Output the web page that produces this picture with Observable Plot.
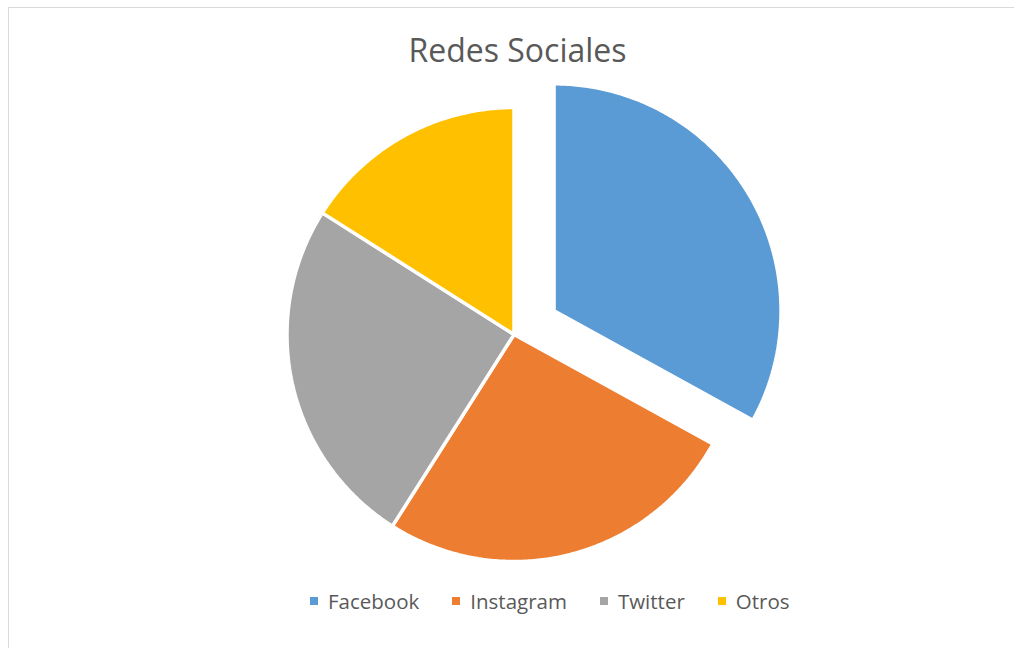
<!DOCTYPE html>
<html>
<head>
<meta charset="utf-8">
<script src="https://cdn.jsdelivr.net/npm/d3@7"></script>
<script src="https://cdn.jsdelivr.net/npm/@observablehq/plot@0.6"></script>
<style>
  html, body { margin: 0; padding: 0; background: #fff; overflow: hidden; width: 1014px; height: 648px; }
  body { font-family: "Open Sans", "Liberation Sans", sans-serif; color: #595959; position: relative; }
  #frame { position: absolute; left: 8px; top: 7px; width: 1200px; height: 800px; border: 1px solid #d9d9d9; box-sizing: border-box; }
  #title { position: absolute; left: 0; width: 1035px; top: 28px; text-align: center; font-size: 32px; line-height: 44px; color: #595959; }
  #chart { position: absolute; left: 0; top: 80px; }
  #legend { position: absolute; left: 310px; top: 587px; display: flex; align-items: center; font-size: 20.5px; line-height: 28px; color: #595959; }
  .item { display: flex; align-items: center; margin-right: 33px; }
  .sw { width: 8px; height: 8px; margin-right: 10px; }
</style>
</head>
<body>
<div id="frame"></div>
<div id="title">Redes Sociales</div>
<div id="chart"></div>
<div id="legend"></div>
<script>
const categories = ["Facebook", "Instagram", "Twitter", "Otros"];
const values = [33, 26, 25, 16];
const colors = ["#5B9BD5", "#ED7D31", "#A5A5A5", "#FFC000"];
const exploded = ["Facebook"];

const explodeFrac = 0.205;
const arcs = d3.pie().sort(null)(values);
const points = [];
arcs.forEach((a, i) => {
  const name = categories[i];
  const mid = (a.startAngle + a.endAngle) / 2;
  const e = exploded.includes(name) ? explodeFrac : 0;
  const ox = e * Math.sin(mid), oy = e * Math.cos(mid);
  points.push({name, x: ox, y: oy});
  const n = Math.max(2, Math.ceil((a.endAngle - a.startAngle) / 0.01));
  for (let k = 0; k <= n; k++) {
    const t = a.startAngle + (a.endAngle - a.startAngle) * k / n;
    points.push({name, x: ox + Math.sin(t), y: oy + Math.cos(t)});
  }
  points.push({name, x: ox, y: oy});
});

const cx = 513.5, cy = 254, r = 227;
const plot = Plot.plot({
  width: 1014,
  height: 490,
  margin: 0,
  x: {domain: [-1, 1], range: [cx - r, cx + r], axis: null},
  y: {domain: [-1, 1], range: [cy + r, cy - r], axis: null},
  color: {domain: categories, range: colors},
  marks: [
    Plot.line(points, {x: "x", y: "y", z: "name", fill: "name", stroke: "white", strokeWidth: 3.5, strokeLinejoin: "miter", curve: "linear"})
  ]
});
document.getElementById("chart").appendChild(plot);

const legend = document.getElementById("legend");
categories.forEach((c, i) => {
  const item = document.createElement("div");
  item.className = "item";
  const sw = document.createElement("div");
  sw.className = "sw";
  sw.style.background = colors[i];
  const label = document.createElement("span");
  label.textContent = c;
  item.appendChild(sw);
  item.appendChild(label);
  legend.appendChild(item);
});
</script>
</body>
</html>
